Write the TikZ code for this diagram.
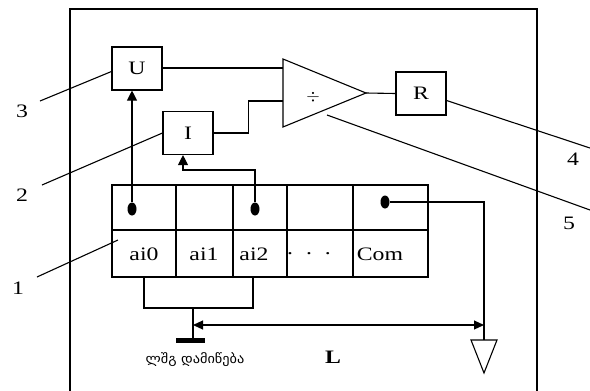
\documentclass[tikz,border=0pt]{standalone}
\usepackage{fontspec}
\setmainfont{Liberation Serif}[FakeStretch=1.25]
\newfontfamily\geofont{DejaVu Sans}[FakeStretch=1.1]
\usetikzlibrary{arrows.meta, positioning, shapes.geometric}

\begin{document}
\begin{tikzpicture}[
    x=1pt, y=-1pt, line width=1.1pt,
    box/.style    = {draw, minimum width=50pt, minimum height=43pt,
                     inner sep=0pt, font=\fontsize{19}{22}\selectfont},
    cell/.style   = {draw, inner sep=0pt},
    txt/.style    = {inner sep=0pt, font=\fontsize{19}{22}\selectfont},
    dot/.style    = {ellipse, fill, inner sep=0pt,
                     minimum width=9pt, minimum height=13pt},
    arrow/.style  = {-{Triangle[length=10pt, width=10pt]}},
    darrow/.style = {{Triangle[length=10pt, width=9pt]}-{Triangle[length=10pt, width=9pt]}},
  ]
  \useasboundingbox (0,0) rectangle (590,391);

  % Frame
  \draw (70,391) -- (70,9) -- (537,9) -- (537,391);

  % Measuring blocks
  \node[box] (U) at (137,68.5) {U};
  \node[box] (I) at (188,133) {I};
  \node[box] (R) at (421,93.5) {R};

  % Divider
  \draw (283,59) -- (366,93) -- (283,127) -- cycle;
  \node[txt] (dv) at (313,97) {$\div$};
  \coordinate (dvin1) at (283,68);
  \coordinate (dvin2) at (283,101);
  \coordinate (dvout) at (366,93);

  % Register table
  \foreach \n/\l/\r/\tx/\t in {0/112/176/144/ai0, 1/176/233/204/ai1,
      2/233/287/254/ai2, 3/287/353/309/{.\hspace{13pt}.\hspace{13pt}.},
      4/353/428/380/Com} {
    \node[cell, minimum width={(\r-\l)*1pt}, minimum height=45pt]
      (t\n) at ({(\l+\r)/2},207.5) {};
    \node[cell, minimum width={(\r-\l)*1pt}, minimum height=47pt]
      (b\n) at ({(\l+\r)/2},253.5) {};
    \node[txt] (a\n) at (\tx,254) {\t};
  }

  % Contacts
  \node[dot] (d0) at (132,209) {};
  \node[dot] (d2) at (255,209) {};
  \node[dot] (d4) at (385,202) {};

  % Earth and load
  \coordinate (brk) at (193,308);
  \coordinate (earth) at (193,340);
  \coordinate (gnd) at (484,340);
  \coordinate (ibend) at (183,170);
  \coordinate (lA) at (193,325);
  \coordinate (lB) at (484,325);
  \draw (471,340) -- (497,340) -- (484,373) -- cycle;
  \draw[line width=5pt] (176,340) -- (205,340);

  \node[font=\geofont\fontsize{13}{15}\selectfont] (gl) at (195,360) {ლშგ დამიწება};
  \node[txt, font=\fontsize{19}{22}\selectfont\bfseries] (L) at (333,357) {L};

  % Connections
  \draw[arrow] (d0) -- (d0 |- U.south);
  \draw[arrow] (d2) |- (ibend) -- (ibend |- I.south);
  \draw (U.east |- dvin1) -- (dvin1);
  \draw (I.east) -- ++(35,0) |- (dvin2);
  \draw (dvout) -- (R.west);
  \draw (d4) -| (gnd);
  \draw (b0.south) -- (144,308) -- (253,308) -- (253,277);
  \draw (brk) -- (earth);
  \draw[darrow] (lA) -- (lB);

  % Leaders
  \node[txt] (n1) at (18,288) {1};
  \node[txt] (n2) at (22,195) {2};
  \node[txt] (n3) at (22,111) {3};
  \node[txt] (n4) at (573,159) {4};
  \node[txt] (n5) at (569,223) {5};
  \coordinate (e1) at (37,277);
  \coordinate (e2) at (42,185);
  \coordinate (e3) at (40,101);
  \coordinate (e4) at (590,148);
  \coordinate (e5) at (590,210);
  \draw (118,240) -- (e1);
  \draw (I.west) -- (e2);
  \draw ([yshift=-3pt]U.west) -- (e3);
  \draw ([yshift=-7pt]R.east) -- (e4);
  \draw (327,115) -- (e5);
\end{tikzpicture}
\end{document}
